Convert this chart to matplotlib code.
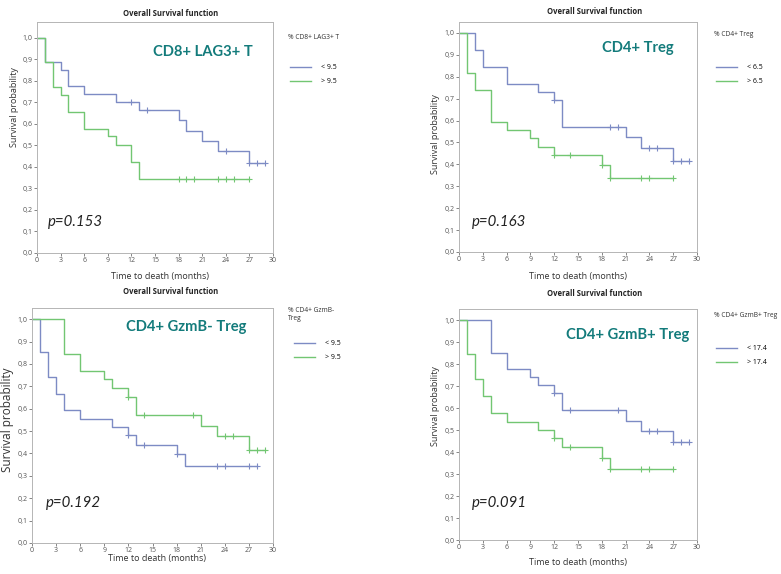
import matplotlib
matplotlib.use('Agg')
import matplotlib.pyplot as plt
import numpy as np

#DATA=============================================================================
# Kaplan-Meier steps: event times, survival after the event, censor times
p1_title = 'CD8+ LAG3+ T'
p1_legend = '% CD8+ LAG3+ T'
p1_labels = ['< 9.5', '> 9.5']
p1_pval = 'p=0.153'
p1_lo_t = [0, 1, 3, 4, 6, 10, 13, 18, 19, 21, 23, 27]
p1_lo_s = [1.0, 0.889, 0.852, 0.778, 0.741, 0.704, 0.663, 0.617, 0.567, 0.520, 0.473, 0.420]
p1_lo_c = [12, 14, 24, 27, 28, 29]
p1_hi_t = [0, 1, 2, 3, 4, 6, 9, 10, 12, 13]
p1_hi_s = [1.0, 0.889, 0.771, 0.733, 0.654, 0.578, 0.543, 0.501, 0.422, 0.344]
p1_hi_c = [18, 19, 20, 23, 24, 25, 27]

p2_title = 'CD4+ Treg'
p2_legend = '% CD4+ Treg'
p2_labels = ['< 6.5', '> 6.5']
p2_pval = 'p=0.163'
p2_lo_t = [0, 2, 3, 6, 10, 12, 13, 21, 23, 27]
p2_lo_s = [1.0, 0.923, 0.846, 0.769, 0.731, 0.692, 0.571, 0.524, 0.476, 0.417]
p2_lo_c = [12, 19, 20, 24, 25, 27, 28, 29]
p2_hi_t = [0, 1, 2, 4, 6, 9, 10, 12, 18, 19]
p2_hi_s = [1.0, 0.815, 0.741, 0.593, 0.556, 0.519, 0.481, 0.444, 0.395, 0.339]
p2_hi_c = [12, 14, 18, 19, 23, 24, 27]

p3_title = 'CD4+ GzmB- Treg'
p3_legend = '% CD4+ GzmB-\nTreg'
p3_labels = ['< 9.5', '> 9.5']
p3_pval = 'p=0.192'
p3_lo_t = [0, 1, 2, 3, 4, 6, 10, 12, 13, 18, 19]
p3_lo_s = [1.0, 0.852, 0.741, 0.667, 0.593, 0.556, 0.519, 0.481, 0.440, 0.396, 0.346]
p3_lo_c = [12, 14, 18, 23, 24, 27, 28]
p3_hi_t = [0, 4, 6, 9, 10, 12, 13, 21, 23, 27]
p3_hi_s = [1.0, 0.846, 0.769, 0.731, 0.692, 0.654, 0.573, 0.525, 0.477, 0.417]
p3_hi_c = [12, 14, 20, 24, 25, 27, 28, 29]

p4_title = 'CD4+ GzmB+ Treg'
p4_legend = '% CD4+ GzmB+ Treg'
p4_labels = ['< 17.4', '> 17.4']
p4_pval = 'p=0.091'
p4_lo_t = [0, 4, 6, 9, 10, 12, 13, 21, 23, 27]
p4_lo_s = [1.0, 0.852, 0.778, 0.741, 0.704, 0.667, 0.589, 0.543, 0.497, 0.444]
p4_lo_c = [12, 14, 20, 24, 25, 27, 28, 29]
p4_hi_t = [0, 1, 2, 3, 4, 6, 10, 12, 13, 18, 19]
p4_hi_s = [1.0, 0.846, 0.731, 0.654, 0.577, 0.538, 0.500, 0.462, 0.423, 0.373, 0.321]
p4_hi_c = [12, 14, 18, 19, 23, 24, 27]

x_ticks = [0, 3, 6, 9, 12, 15, 18, 21, 24, 27, 30]
y_ticks = [0.0, 0.1, 0.2, 0.3, 0.4, 0.5, 0.6, 0.7, 0.8, 0.9, 1.0]
y_ticklabels = ['0,0', '0,1', '0,2', '0,3', '0,4', '0,5', '0,6', '0,7', '0,8', '0,9', '1,0']
#DATA=============================================================================

W, H = 781, 574
BLUE = '#7d8bc4'
GREEN = '#72c672'
TEAL = '#137b7b'

plt.rcParams['font.family'] = 'Open Sans'

fig = plt.figure(figsize=(W / 100, H / 100), dpi=100)


def fx(x):
    return x / W


def fy(y):
    return 1 - y / H


def km_line(ax, t, s, c, color):
    # step curve runs until the last censor (or last event)
    t_end = max(max(t), max(c))
    tt = list(t) + [t_end]
    ss = list(s) + [s[-1]]
    line, = ax.step(tt, ss, where='post', color=color, lw=1.0)
    # censor marks sit on the curve value at that time
    idx = np.searchsorted(np.array(t), np.array(c), side='right') - 1
    cs = np.array(s)[idx]
    ax.plot(c, cs, ls='none', marker='+', ms=4, mew=0.8, color=color)
    return line


def panel(box, ylim_top, lo, hi, title, legend, labels, pval, pos):
    # box = left, top, right, bottom in pixels
    l, t, r, b = box
    ax = fig.add_axes([fx(l), fy(b), fx(r - l), (b - t) / H])
    l1 = km_line(ax, lo[0], lo[1], lo[2], BLUE)
    l2 = km_line(ax, hi[0], hi[1], hi[2], GREEN)
    ax.set_xlim(0, 30)
    ax.set_ylim(0, ylim_top)
    ax.set_xticks(x_ticks)
    ax.set_yticks(y_ticks)
    ax.set_yticklabels(y_ticklabels)
    ax.tick_params(labelsize=5, length=2, width=0.5, pad=1, colors='#555555')
    for sp in ax.spines.values():
        sp.set_color('#b5b5b5')
        sp.set_linewidth(0.7)

    # text placed in pixels of the reference
    fig.text(fx(pos['title'][0]), fy(pos['title'][1]), 'Overall Survival function',
             ha='center', va='center', fontsize=5.5, fontweight='bold', color='#222222')
    fig.text(fx(pos['xlab'][0]), fy(pos['xlab'][1]), 'Time to death (months)',
             ha='center', va='center', fontsize=6.5, color='#333333')
    fig.text(fx(pos['ylab'][0]), fy(pos['ylab'][1]), 'Survival probability',
             ha='center', va='center', rotation=90, fontsize=pos.get('ylab_fs', 6.5), color='#333333')
    fig.text(fx(pos['big'][0]), fy(pos['big'][1]), title, family='Lato',
             ha='center', va='center', fontsize=10.6, fontweight='bold', color=TEAL)
    fig.text(fx(pos['p'][0]), fy(pos['p'][1]), pval, family='Lato',
             ha='left', va='center', fontsize=10.8, style='italic', color='#222222')

    fig.text(fx(pos['leg'][0]), fy(pos['leg'][1]), legend,
             ha='left', va='top', fontsize=4.8, color='#333333', linespacing=1.3)
    fig.legend([l1, l2], labels, loc='upper left',
               bbox_to_anchor=(fx(pos['legbox'][0]), fy(pos['legbox'][1])),
               frameon=False, fontsize=5, handlelength=3.0, handletextpad=1.5,
               labelspacing=1.0, borderpad=0, borderaxespad=0)
    return ax


panel((37, 22, 273, 253), 1.074,
      (p1_lo_t, p1_lo_s, p1_lo_c), (p1_hi_t, p1_hi_s, p1_hi_c),
      p1_title, p1_legend, p1_labels, p1_pval,
      {'title': (171, 13), 'xlab': (160, 277), 'ylab': (15, 107), 'big': (203, 52),
       'p': (48, 222), 'leg': (288, 34), 'legbox': (290, 64)})

panel((459, 22, 697, 252), 1.05,
      (p2_lo_t, p2_lo_s, p2_lo_c), (p2_hi_t, p2_hi_s, p2_hi_c),
      p2_title, p2_legend, p2_labels, p2_pval,
      {'title': (595, 12), 'xlab': (578, 276), 'ylab': (435, 134), 'big': (638, 48),
       'p': (472, 222), 'leg': (714, 31), 'legbox': (716, 64)})

panel((32, 308, 273, 543), 1.05,
      (p3_lo_t, p3_lo_s, p3_lo_c), (p3_hi_t, p3_hi_s, p3_hi_c),
      p3_title, p3_legend, p3_labels, p3_pval,
      {'title': (171, 292), 'xlab': (157, 559), 'ylab': (8, 420), 'ylab_fs': 8.5,
       'big': (186, 327), 'p': (46, 503), 'leg': (288, 307), 'legbox': (294, 340)})

panel((459, 309, 697, 540), 1.05,
      (p4_lo_t, p4_lo_s, p4_lo_c), (p4_hi_t, p4_hi_s, p4_hi_c),
      p4_title, p4_legend, p4_labels, p4_pval,
      {'title': (595, 294), 'xlab': (578, 562), 'ylab': (435, 406), 'big': (628, 335),
       'p': (472, 503), 'leg': (714, 312), 'legbox': (716, 345)})

fig.savefig('out.png', dpi=100)
